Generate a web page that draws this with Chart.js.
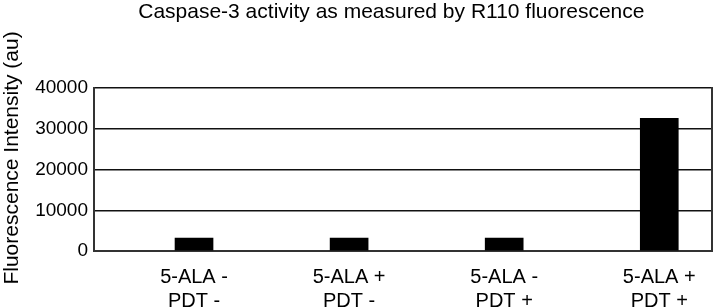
<!DOCTYPE html>
<html>
<head>
<meta charset="utf-8">
<script src="https://cdn.jsdelivr.net/npm/chart.js@4/dist/chart.umd.min.js"></script>
<style>
  html, body { margin: 0; padding: 0; background: #fff; }
  #wrap { width: 715px; height: 308px; }
</style>
</head>
<body>
<div id="wrap"><canvas id="chart"></canvas></div>
<script>
// Chart data
const categories = [
    ['5-ALA -', 'PDT -'],
    ['5-ALA +', 'PDT -'],
    ['5-ALA -', 'PDT +'],
    ['5-ALA +', 'PDT +']
];
const positions = [1, 2, 3, 4];
const caspaseValues = [3200, 3200, 3200, 32600];
const yTicks = [0, 10000, 20000, 30000, 40000];

const FONT = "'Liberation Sans', Arial, sans-serif";
const INK = '#000';
const FRAME = '#333';

const chart = new Chart(document.getElementById('chart'), {
    type: 'bar',
    data: {
        datasets: [{
            label: 'Caspase-3 activity',
            data: positions.map((p, i) => ({ x: p, y: caspaseValues[i] })),
            backgroundColor: '#000',
            borderWidth: 0,
            barThickness: 38
        }]
    },
    options: {
        responsive: true,
        maintainAspectRatio: false,
        animation: false,
        layout: { padding: { left: 0, right: 3, top: 0, bottom: 0 } },
        plugins: {
            legend: { display: false },
            tooltip: { enabled: false },
            title: {
                display: true,
                fullSize: false,
                // trailing spaces nudge the centred title a little to the left
                text: 'Caspase-3 activity as measured by R110 fluorescence    ',
                color: INK,
                font: { family: FONT, size: 21, weight: 'normal' },
                padding: { top: 0, bottom: 63 }
            }
        },
        scales: {
            x: {
                type: 'linear',
                offset: false,
                min: 0.355,
                max: 4.34,
                afterBuildTicks: axis => { axis.ticks = positions.map(v => ({ value: v })); },
                afterFit: axis => { axis.height = 57; },
                grid: { display: false, drawTicks: false },
                border: { display: true, color: FRAME, width: 2 },
                ticks: {
                    color: INK,
                    padding: 14,
                    maxRotation: 0,
                    autoSkip: false,
                    font: { family: FONT, size: 20 },
                    callback: v => categories[positions.indexOf(v)]
                }
            },
            y: {
                min: 0,
                max: 40000,
                afterBuildTicks: axis => { axis.ticks = yTicks.map(v => ({ value: v })); },
                afterFit: axis => { axis.width = 94; },
                grid: { color: '#111', lineWidth: 1.5, drawTicks: false },
                border: { display: true, color: FRAME, width: 2 },
                ticks: {
                    color: INK,
                    padding: 6,
                    font: { family: FONT, size: 19 },
                    callback: v => String(v)
                },
                title: {
                    display: true,
                    // leading spaces lift the rotated title towards the top
                    text: '    Fluorescence Intensity (au)',
                    color: INK,
                    font: { family: FONT, size: 21 },
                    padding: { top: 0, bottom: 4 }
                }
            },
            yRight: {
                position: 'right',
                min: 0,
                max: 40000,
                afterFit: axis => { axis.width = 0; },
                grid: { display: false, drawTicks: false },
                border: { display: true, color: FRAME, width: 2 },
                ticks: { display: false }
            }
        }
    }
});
</script>
</body>
</html>
